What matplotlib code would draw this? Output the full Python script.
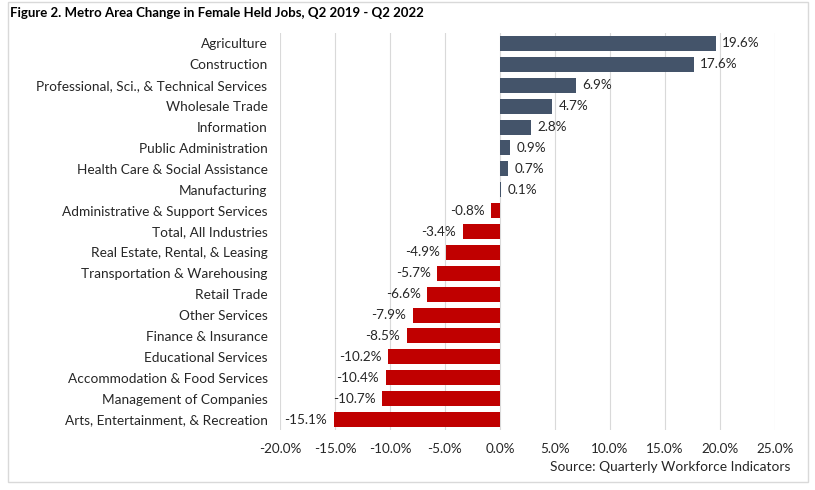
import matplotlib.pyplot as plt
from matplotlib.patches import Rectangle

plt.rcParams["font.family"] = ["Lato", "DejaVu Sans"]

industries = [
    "Agriculture",
    "Construction",
    "Professional, Sci., & Technical Services",
    "Wholesale Trade",
    "Information",
    "Public Administration",
    "Health Care & Social Assistance",
    "Manufacturing",
    "Administrative & Support Services",
    "Total, All Industries",
    "Real Estate, Rental, & Leasing",
    "Transportation & Warehousing",
    "Retail Trade",
    "Other Services",
    "Finance & Insurance",
    "Educational Services",
    "Accommodation & Food Services",
    "Management of Companies",
    "Arts, Entertainment, & Recreation",
]
change = [19.6, 17.6, 6.9, 4.7, 2.8, 0.9, 0.7, 0.1, -0.8, -3.4, -4.9, -5.7,
          -6.6, -7.9, -8.5, -10.2, -10.4, -10.7, -15.1]
x_ticks = [-20, -15, -10, -5, 0, 5, 10, 15, 20, 25]

pos_color = "#44546A"
neg_color = "#C00000"
text_color = "#262626"

fig = plt.figure(figsize=(8.15, 4.9), dpi=100)
# outer frame
fig.patches.append(Rectangle((8 / 815, 8 / 490), 800 / 815, 480 / 490,
                             transform=fig.transFigure, fill=False,
                             edgecolor="#D9D9D9", linewidth=1))

ax = fig.add_axes([280 / 815, 1 - 430 / 490, 495 / 815, 397 / 490])
y = list(range(len(industries)))
colors = [pos_color if v >= 0 else neg_color for v in change]
ax.barh(y, change, height=0.72, color=colors, zorder=3)

for yi, v in zip(y, change):
    if v >= 0:
        ax.text(v + 0.6, yi, f"{v:.1f}%", va="center", ha="left",
                fontsize=9.7, color=text_color)
    else:
        ax.text(v - 0.6, yi, f"{v:.1f}%", va="center", ha="right",
                fontsize=9.7, color=text_color)

ax.set_yticks(y)
ax.set_yticklabels(industries, fontsize=9.8, color=text_color)
ax.set_ylim(len(industries) - 0.5, -0.5)
ax.set_xlim(-20, 25)
ax.set_xticks(x_ticks)
ax.set_xticklabels([f"{t:.1f}%" for t in x_ticks], fontsize=9.7, color=text_color)
ax.tick_params(axis="both", length=0)
ax.tick_params(axis="y", pad=9)
ax.tick_params(axis="x", pad=9)
ax.grid(axis="x", color="#D9D9D9", linewidth=0.8, zorder=0)
for s in ax.spines.values():
    s.set_visible(False)

fig.text(10 / 815, 1 - 13 / 490, "Figure 2. Metro Area Change in Female Held Jobs, Q2 2019 - Q2 2022",
         fontsize=9.5, fontweight="bold", ha="left", va="center", color="black")
fig.text(790 / 815, 1 - 467 / 490, "Source: Quarterly Workforce Indicators",
         fontsize=9.9, ha="right", va="center", color=text_color)

fig.savefig("out.png", dpi=100)
